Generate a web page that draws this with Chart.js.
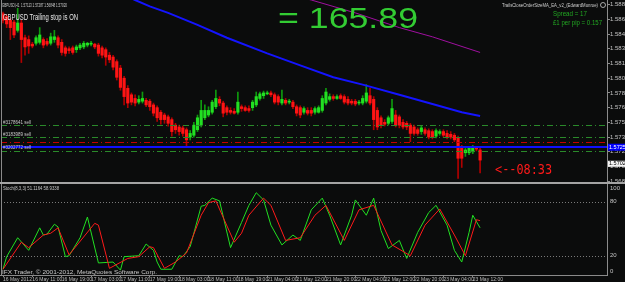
<!DOCTYPE html>
<html>
<head>
<meta charset="utf-8">
<script src="https://cdn.jsdelivr.net/npm/chart.js@4/dist/chart.umd.min.js"></script>
<style>
html, body { margin: 0; padding: 0; background: #0b0c0c; }
#wrap { position: relative; width: 625px; height: 282px; overflow: hidden; background: #0b0c0c; }
#main { position: absolute; left: 0; top: 0; }
#stoch { position: absolute; left: 0; top: 184px; }
</style>
</head>
<body>
<div id="wrap">
  <canvas id="main" width="625" height="184"></canvas>
  <canvas id="stoch" width="625" height="98"></canvas>
</div>
<script>
// GBPUSD H1 candles, one entry per bar (bar 0 = 16 May 2012 03:00)
const opens = [
  1.5870,1.5867,1.5863,1.5861,1.5852,1.5860,1.5844,1.5842,1.5837,1.5838,
  1.5839,1.5842,1.5840,1.5838,1.5842,1.5844,1.5839,1.5833,1.5832,1.5833,
  1.5831,1.5833,1.5834,1.5836,1.5837,1.5837,1.5836,1.5833,1.5831,1.5825,
  1.5823,1.5818,1.5811,1.5800,1.5789,1.5782,1.5778,1.5774,1.5775,1.5776,
  1.5775,1.5771,1.5768,1.5763,1.5760,1.5758,1.5755,1.5749,1.5747,1.5746,
  1.5744,1.5736,1.5738,1.5744,1.5749,1.5757,1.5760,1.5763,1.5769,1.5777,
  1.5773,1.5768,1.5765,1.5764,1.5763,1.5769,1.5768,1.5767,1.5768,1.5771,
  1.5778,1.5781,1.5783,1.5784,1.5782,1.5780,1.5773,1.5776,1.5774,1.5774,
  1.5769,1.5768,1.5763,1.5765,1.5765,1.5763,1.5763,1.5765,1.5773,1.5777,
  1.5780,1.5778,1.5781,1.5780,1.5777,1.5775,1.5775,1.5773,1.5773,1.5775,
  1.5781,1.5777,1.5765,1.5757,1.5752,1.5751,1.5753,1.5760,1.5758,1.5752,
  1.5751,1.5749,1.5747,1.5744,1.5742,1.5744,1.5743,1.5742,1.5737,1.5740,
  1.5742,1.5740,1.5739,1.5738,1.5735,1.5725,1.5719,1.5719,1.5720,1.5724,
  1.5722
];
const highs = [
  1.5872,1.5869,1.5865,1.5863,1.5876,1.5863,1.5847,1.5846,1.5839,1.5846,
  1.5855,1.5844,1.5843,1.5849,1.5852,1.5846,1.5842,1.5835,1.5834,1.5835,
  1.5836,1.5838,1.5840,1.5839,1.5840,1.5838,1.5838,1.5835,1.5833,1.5828,
  1.5825,1.5820,1.5814,1.5802,1.5792,1.5784,1.5782,1.5781,1.5785,1.5778,
  1.5777,1.5773,1.5770,1.5765,1.5762,1.5760,1.5757,1.5751,1.5749,1.5748,
  1.5746,1.5743,1.5752,1.5760,1.5776,1.5771,1.5769,1.5776,1.5787,1.5780,
  1.5775,1.5770,1.5768,1.5767,1.5785,1.5771,1.5770,1.5770,1.5776,1.5785,
  1.5785,1.5786,1.5786,1.5786,1.5784,1.5782,1.5787,1.5778,1.5777,1.5776,
  1.5771,1.5770,1.5769,1.5768,1.5768,1.5769,1.5770,1.5781,1.5789,1.5783,
  1.5782,1.5782,1.5783,1.5782,1.5780,1.5777,1.5777,1.5776,1.5781,1.5793,
  1.5789,1.5780,1.5768,1.5759,1.5755,1.5759,1.5777,1.5765,1.5760,1.5755,
  1.5753,1.5751,1.5749,1.5746,1.5748,1.5746,1.5745,1.5744,1.5745,1.5744,
  1.5744,1.5743,1.5742,1.5740,1.5737,1.5727,1.5724,1.5726,1.5727,1.5726,
  1.5724
];
const lows = [
  1.5860,1.5855,1.5842,1.5844,1.5850,1.5817,1.5825,1.5827,1.5833,1.5836,
  1.5837,1.5833,1.5835,1.5836,1.5839,1.5833,1.5825,1.5824,1.5827,1.5826,
  1.5828,1.5831,1.5832,1.5834,1.5835,1.5832,1.5824,1.5822,1.5814,1.5817,
  1.5809,1.5798,1.5787,1.5771,1.5768,1.5771,1.5770,1.5772,1.5773,1.5769,
  1.5765,1.5759,1.5753,1.5750,1.5751,1.5748,1.5737,1.5740,1.5738,1.5737,
  1.5725,1.5733,1.5736,1.5742,1.5747,1.5755,1.5758,1.5761,1.5767,1.5770,
  1.5758,1.5760,1.5761,1.5761,1.5761,1.5764,1.5764,1.5763,1.5765,1.5769,
  1.5776,1.5778,1.5782,1.5780,1.5772,1.5771,1.5771,1.5771,1.5772,1.5767,
  1.5759,1.5757,1.5761,1.5760,1.5759,1.5761,1.5762,1.5763,1.5771,1.5775,
  1.5776,1.5777,1.5777,1.5772,1.5771,1.5771,1.5770,1.5771,1.5771,1.5773,
  1.5771,1.5744,1.5744,1.5746,1.5748,1.5749,1.5751,1.5747,1.5746,1.5745,
  1.5744,1.5731,1.5738,1.5738,1.5739,1.5738,1.5734,1.5734,1.5735,1.5738,
  1.5736,1.5734,1.5734,1.5731,1.5691,1.5703,1.5715,1.5717,1.5718,1.5721,
  1.5697
];
const closes = [
  1.5863,1.5859,1.5855,1.5847,1.5860,1.5842,1.5834,1.5835,1.5835,1.5844,
  1.5847,1.5836,1.5837,1.5845,1.5845,1.5836,1.5828,1.5827,1.5830,1.5828,
  1.5834,1.5836,1.5838,1.5838,1.5838,1.5834,1.5827,1.5825,1.5823,1.5820,
  1.5812,1.5801,1.5790,1.5780,1.5773,1.5774,1.5773,1.5777,1.5778,1.5771,
  1.5769,1.5762,1.5757,1.5755,1.5755,1.5751,1.5742,1.5744,1.5742,1.5740,
  1.5733,1.5740,1.5749,1.5757,1.5765,1.5765,1.5765,1.5774,1.5778,1.5773,
  1.5762,1.5763,1.5763,1.5762,1.5774,1.5767,1.5765,1.5765,1.5774,1.5780,
  1.5783,1.5784,1.5784,1.5782,1.5774,1.5774,1.5777,1.5773,1.5775,1.5769,
  1.5762,1.5760,1.5767,1.5762,1.5762,1.5767,1.5768,1.5778,1.5785,1.5780,
  1.5778,1.5780,1.5778,1.5774,1.5773,1.5773,1.5772,1.5774,1.5778,1.5784,
  1.5773,1.5755,1.5747,1.5749,1.5750,1.5757,1.5767,1.5749,1.5749,1.5747,
  1.5747,1.5740,1.5740,1.5740,1.5746,1.5740,1.5736,1.5736,1.5743,1.5742,
  1.5738,1.5736,1.5736,1.5733,1.5713,1.5713,1.5722,1.5724,1.5725,1.5723,
  1.5711
];

// moving averages (bar index, price)
const blueBars = [32, 36, 40, 45, 53, 61, 72, 81, 90, 98, 108, 117, 125, 130];
const blueVals = [1.5892, 1.5885, 1.5878, 1.5871, 1.5858, 1.5844, 1.5827, 1.5814, 1.5801, 1.5793, 1.5782, 1.5772, 1.5763, 1.5759];
const purpleBars = [81, 84, 96, 108, 117, 130];
const purpleVals = [1.5888, 1.5885, 1.5871, 1.5855, 1.5845, 1.5828];

// stochastic %K and %D
const kBars = [0,1,4,7,10,11,12,14,15,17,18,21,23,26,30,32,33,37,39,41,42,43,46,48,49,51,54,55,57,59,62,65,67,69,71,73,76,79,81,84,87,89,92,95,96,99,101,103,105,108,110,113,116,118,121,123,125,127,128,130];
const kVals = [5,19,40,26,51,43,44,55,52,19,20,40,63,12,13,4,19,20,33,26,13,5,5,20,19,30,75,76,84,81,29,57,76,90,82,54,32,43,37,71,84,65,32,65,82,65,84,48,28,37,17,46,68,76,54,26,13,46,65,51];
const dBars = [0,5,7,11,13,15,18,25,26,29,34,37,40,41,44,47,50,54,56,58,63,65,67,71,73,77,81,85,88,93,97,101,106,111,115,119,123,126,129,130];
const dVals = [5,35,29,43,45,51,21,56,54,6,17,19,30,29,6,13,23,65,79,81,35,45,65,84,76,37,40,65,76,37,71,76,32,20,54,72,43,20,60,59];
const stochLevels = [80, 20];
const stochTicks = [100, 80, 20, 0];

// axes
const priceTicks = [1.5880, 1.5864, 1.5848, 1.5832, 1.5816, 1.5800, 1.5784, 1.5768, 1.5752, 1.5736, 1.5720, 1.5704, 1.5688];
const timeBars = [0, 8, 16, 24, 32, 40, 48, 56, 64, 72, 80, 88, 96, 104, 112, 120, 128];
const timeLabels = ['16 May 2012', '16 May 11:00', '16 May 19:00', '17 May 03:00', '17 May 11:00', '17 May 19:00',
  '18 May 03:00', '18 May 11:00', '18 May 19:00', '21 May 04:00', '21 May 12:00', '21 May 20:00',
  '22 May 04:00', '22 May 12:00', '22 May 20:00', '23 May 04:00', '23 May 12:00'];

// open orders and trailing stop
const orderLevels = [1.5749, 1.5736, 1.5721];
const orderTickets = ['#3178641 sell', '#3183989 sell', '#3202772 sell'];
const stopLevel = 1.5731;
const trailLevel = 1.5725;
const bidLevel = 1.5707;

const xMin = -0.545, xMax = 164.58;
const yMin = 1.56872, yMax = 1.58850;

Chart.defaults.font.family = '"Liberation Sans", Arial, sans-serif';

function fitText(ctx, text, x, y, width, size, color, family) {
    ctx.save();
    ctx.font = size + 'px ' + (family || '"Liberation Sans", Arial, sans-serif');
    ctx.fillStyle = color;
    ctx.textBaseline = 'middle';
    ctx.textAlign = 'left';
    const w = ctx.measureText(text).width;
    ctx.translate(x, y);
    ctx.scale(width / w, 1);
    ctx.fillText(text, 0, 0);
    ctx.restore();
}

function hline(ctx, a, py, color, width, dash) {
    ctx.save();
    ctx.strokeStyle = color;
    ctx.lineWidth = width;
    ctx.setLineDash(dash);
    ctx.beginPath();
    ctx.moveTo(a.left, py);
    ctx.lineTo(a.right, py);
    ctx.stroke();
    ctx.restore();
}

const mainOverlay = {
    id: 'mainOverlay',
    afterDatasetsDraw(chart) {
        const { ctx, chartArea: a, scales: { y } } = chart;
        const dashDot = [6, 3, 1, 3];
        orderLevels.forEach(p => hline(ctx, a, Math.round(y.getPixelForValue(p)) + 0.5, '#2a8a2a', 1, dashDot));
        hline(ctx, a, Math.round(y.getPixelForValue(stopLevel)) + 0.5, '#c40000', 1, dashDot);
        hline(ctx, a, Math.round(y.getPixelForValue(trailLevel)), '#1010ff', 2, []);

        orderLevels.forEach((p, k) => {
            fitText(ctx, orderTickets[k], 3, y.getPixelForValue(p) - 3, 28, 5.5, '#c8c8c8');
        });
    },
    afterDraw(chart) {
        const { ctx, chartArea: a, scales: { y } } = chart;
        // frame
        ctx.fillStyle = '#8a8a8a';
        ctx.fillRect(1, 0, 1, a.bottom);
        ctx.fillStyle = '#a4a4a4';
        ctx.fillRect(0, 182, 625, 2);

        // price boxes on the axis
        let py = y.getPixelForValue(trailLevel);
        ctx.fillStyle = '#0000ff';
        ctx.fillRect(608, py - 3.5, 17, 7);
        fitText(ctx, trailLevel.toFixed(5), 609, py, 20, 6, '#ffffff');
        py = y.getPixelForValue(bidLevel);
        ctx.fillStyle = '#f4f4f4';
        ctx.fillRect(608, py - 3, 17, 6);
        fitText(ctx, '1.57020', 609, py, 20, 6, '#000000');

        // texts
        fitText(ctx, 'GBPUSD,H1  1.57113 1.57287 1.56848 1.57020', 2, 5, 65, 6, '#cfcfcf');
        fitText(ctx, 'GBPUSD Trailing stop is ON', 3, 18, 75, 8.5, '#e6e6e6');
        fitText(ctx, '= 165.89', 278, 19.5, 140, 30, '#33cc33');
        fitText(ctx, 'TrailsCloseOrderSizeMA_EA_v2_(EdwardMunroe)', 502, 5, 96, 6, '#cfcfcf');
        ctx.strokeStyle = '#cfcfcf';
        ctx.lineWidth = 0.8;
        ctx.beginPath();
        ctx.arc(603, 5, 2.5, 0, Math.PI * 2);
        ctx.stroke();
        fitText(ctx, 'Spread = 17', 553, 14.5, 34, 7, '#22a822');
        fitText(ctx, '£1 per pip = 0.157', 553, 23, 49, 7, '#22a822');
        fitText(ctx, '<--08:33', 495, 170, 57, 14, '#ff1a1a', '"DejaVu Sans Mono", monospace');
    }
};

const up = closes.map((c, i) => c >= opens[i]);

new Chart(document.getElementById('main'), {
    type: 'bar',
    data: {
        datasets: [
            {
                type: 'line', label: 'MA slow', order: 0,
                data: blueBars.map((b, k) => ({ x: b, y: blueVals[k] })),
                borderColor: '#1414ff', borderWidth: 2, pointRadius: 0, tension: 0
            },
            {
                type: 'line', label: 'MA long', order: 0,
                data: purpleBars.map((b, k) => ({ x: b, y: purpleVals[k] })),
                borderColor: '#a010a0', borderWidth: 1, pointRadius: 0, tension: 0
            },
            {
                label: 'body', order: 1,
                data: opens.map((o, i) => ({ x: i, y: [o, closes[i]] })),
                backgroundColor: up.map(u => u ? '#22e022' : '#ff1414'),
                barThickness: 2.5, minBarLength: 1, grouped: false
            },
            {
                label: 'wick', order: 2,
                data: highs.map((h, i) => ({ x: i, y: [lows[i], h] })),
                backgroundColor: up.map(u => u ? '#0e9a0e' : '#b00000'),
                barThickness: 1, grouped: false
            }
        ]
    },
    options: {
        responsive: false,
        animation: false,
        events: [],
        layout: { padding: { left: 1, top: 0, right: 0, bottom: 2 } },
        plugins: { legend: { display: false }, tooltip: { enabled: false } },
        scales: {
            x: { type: 'linear', min: xMin, max: xMax, display: false, offset: false },
            y: {
                position: 'right', min: yMin, max: yMax,
                afterBuildTicks: s => { s.ticks = priceTicks.map(v => ({ value: v })); },
                afterFit: s => { s.width = 18; s.paddingTop = 0; s.paddingBottom = 0; },
                ticks: { color: '#c4c4c4', font: { size: 6 }, padding: 0, callback: v => v.toFixed(5) },
                grid: { drawOnChartArea: false, color: '#8c8c8c', tickLength: 3 },
                border: { color: '#8c8c8c' }
            }
        }
    },
    plugins: [mainOverlay]
});

const stochOverlay = {
    id: 'stochOverlay',
    beforeDatasetsDraw(chart) {
        const { ctx, chartArea: a, scales: { y } } = chart;
        stochLevels.forEach(v => hline(ctx, a, Math.round(y.getPixelForValue(v)) + 0.5, '#7a7a7a', 1, [1, 2]));
    },
    afterDraw(chart) {
        const { ctx, chartArea: a, scales: { y } } = chart;
        ctx.fillStyle = '#8a8a8a';
        ctx.fillRect(1, 0, 1, a.bottom);
        ctx.fillRect(0, a.bottom, 607, 1);

        ctx.save();
        ctx.font = '6px "Liberation Sans", Arial, sans-serif';
        ctx.fillStyle = '#c4c4c4';
        ctx.textAlign = 'left';
        stochTicks.forEach(v => {
            let py = y.getPixelForValue(v);
            ctx.textBaseline = 'middle';
            if (py < a.top + 3) { py = a.top + 1; ctx.textBaseline = 'top'; }
            if (py > a.bottom - 3) { py = a.bottom - 1; ctx.textBaseline = 'bottom'; }
            ctx.fillText(String(v), 610, py);
        });
        ctx.restore();

        fitText(ctx, 'Stoch(8,3,3) 51.1164 58.9338', 3, 4.5, 56, 5, '#c8c8c8');
        fitText(ctx, 'IFX Trader, © 2001-2012, MetaQuotes Software Corp.', 2, 88.5, 155, 6, '#c8c8c8');
    }
};

new Chart(document.getElementById('stoch'), {
    type: 'line',
    data: {
        datasets: [
            {
                label: 'signal', order: 0,
                data: dBars.map((b, k) => ({ x: b, y: dVals[k] })),
                borderColor: '#ff1a1a', borderWidth: 1, pointRadius: 0, tension: 0
            },
            {
                label: 'main', order: 1,
                data: kBars.map((b, k) => ({ x: b, y: kVals[k] })),
                borderColor: '#22e022', borderWidth: 1, pointRadius: 0, tension: 0
            }
        ]
    },
    options: {
        responsive: false,
        animation: false,
        events: [],
        layout: { padding: { left: 1, top: 0, right: 0, bottom: 0 } },
        plugins: { legend: { display: false }, tooltip: { enabled: false } },
        scales: {
            x: {
                type: 'linear', min: xMin, max: xMax, offset: false,
                afterBuildTicks: s => { s.ticks = timeBars.map(v => ({ value: v })); },
                afterFit: s => { s.height = 7; s.paddingLeft = 0; s.paddingRight = 0; },
                ticks: {
                    color: '#bdbdbd', font: { size: 5 }, padding: 0, align: 'start',
                    autoSkip: false, maxRotation: 0, callback: (v, i) => timeLabels[i]
                },
                grid: { drawOnChartArea: false, color: '#8c8c8c', tickLength: 2 },
                border: { color: '#8c8c8c' }
            },
            y: {
                position: 'right', min: -1.4, max: 99.7,
                afterFit: s => { s.width = 18; s.paddingTop = 0; s.paddingBottom = 0; },
                ticks: { display: false },
                grid: { display: false },
                border: { color: '#8c8c8c' }
            }
        }
    },
    plugins: [stochOverlay]
});
</script>
</body>
</html>
